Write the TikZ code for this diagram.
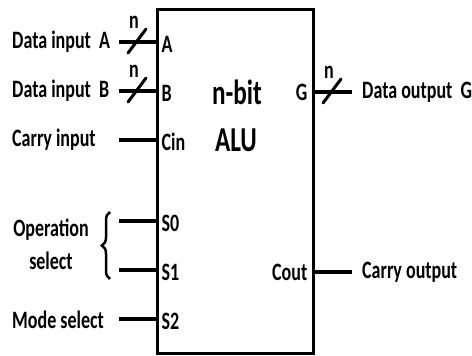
\documentclass[tikz,border=0pt]{standalone}
\usepackage{fontspec}
\newfontfamily\alufont{Carlito}[FakeStretch=0.72]
\usetikzlibrary{calc,decorations.pathreplacing}

\tikzset{
  pinline/.style={line width=4pt},
  busmark/.style={line width=3pt,line cap=round},
  lbl/.style={font=\alufont\bfseries\fontsize{25}{27}\selectfont,inner sep=0pt},
  biglbl/.style={font=\alufont\bfseries\fontsize{35}{37}\selectfont,inner sep=0pt}
}

\begin{document}
\begin{tikzpicture}[x=1pt,y=-1pt]
  \useasboundingbox (0,0) rectangle (472,356);

  % the ALU block
  \node[draw,line width=3pt,minimum width=156pt,minimum height=344pt,inner sep=0pt] (alu) at (235,181) {};
  \node[biglbl] (nbit) at (237,92) {n-bit};
  \node[biglbl] (alutxt) at (236,140) {ALU};

  % input pins
  \foreach \id/\y/\pinname in {a/42/A, b/91/B, cin/140/Cin, sa/221/S0, sb/270/S1, sc/319/S2}{
    \coordinate (\id) at (119,\y);
    \draw[pinline] (\id) -- (\id -| alu.west);
    \node[lbl,anchor=west] (pin\id) at ($(\id -| alu.west)+(6,2)$) {\pinname};
  }

  % output pins
  \coordinate (g) at (352,92);
  \coordinate (cout) at (352,272);
  \draw[pinline] (g -| alu.east) -- (g);
  \draw[pinline] (cout -| alu.east) -- (cout);
  \node[lbl,anchor=east] (ping) at ($(g -| alu.east)+(-7,0)$) {G};
  \node[lbl,anchor=east] (pincout) at ($(cout -| alu.east)+(-7,0)$) {Cout};

  % bus width marks
  \foreach \c/\x/\y in {ma/137/41, mb/137/90, mg/332/91}{
    \coordinate (\c) at (\x,\y);
    \draw[busmark] ($(\c)+(-9,12)$) -- ($(\c)+(9,-12)$);
    \node[lbl] (n\c) at ($(\c)+(-3,-19)$) {n};
  }

  % outside labels
  \node[lbl,anchor=west] (dataA) at (12,42) {Data input\ \ A};
  \node[lbl,anchor=west] (dataB) at (12,91) {Data input\ \ B};
  \node[lbl,anchor=west] (carryin) at (12,140) {Carry input};
  \node[lbl,align=center] (opsel) at (51,244) {Operation\\[6pt]select};
  \node[lbl,anchor=west] (modesel) at (12,320) {Mode select};
  \node[lbl,anchor=west] (dataG) at (362,92) {Data output\ \ G};
  \node[lbl,anchor=west] (carryout) at (362,272) {Carry output};

  % brace for the operation select
  \coordinate (brlow) at (110,279);
  \coordinate (brhigh) at (110,212);
  \draw[line width=2.5pt,decorate,decoration={brace,amplitude=8pt}] (brlow) -- (brhigh);
\end{tikzpicture}
\end{document}
